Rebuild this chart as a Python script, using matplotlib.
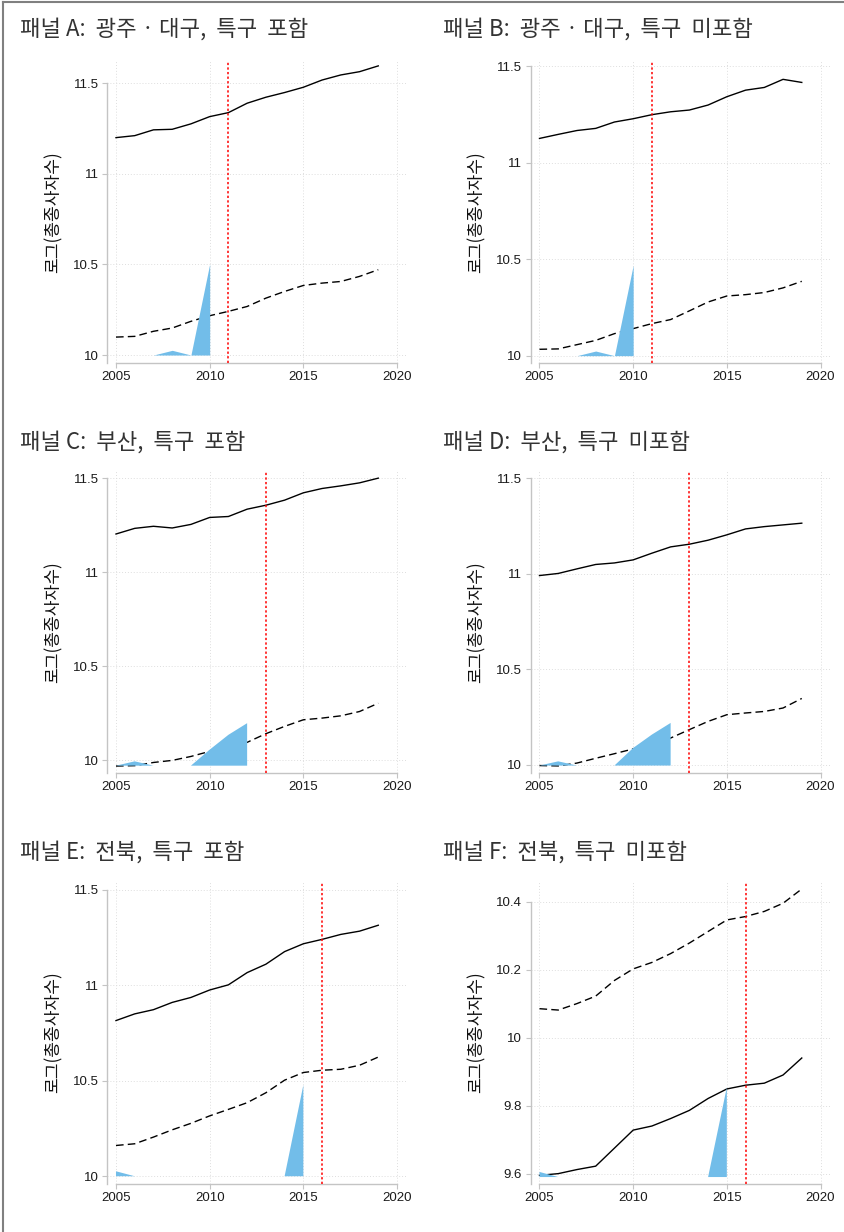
import numpy as np
import matplotlib.pyplot as plt
from matplotlib.lines import Line2D

plt.rcParams['font.family'] = ['Liberation Sans', 'Noto Sans CJK KR', 'DejaVu Sans']

years = list(range(2005, 2020))

titles = ["패널 A:  광주 · 대구,  특구  포함", "패널 B:  광주 · 대구,  특구  미포함",
          "패널 C:  부산,  특구  포함", "패널 D:  부산,  특구  미포함",
          "패널 E:  전북,  특구  포함", "패널 F:  전북,  특구  미포함"]
ylabel = "로그(총종사자수)"

# solid line (treated region) per panel
solid_a = [11.200, 11.211, 11.243, 11.246, 11.276, 11.316, 11.338, 11.390, 11.423, 11.449, 11.478, 11.518, 11.546, 11.564, 11.596]
solid_b = [11.125, 11.146, 11.166, 11.177, 11.210, 11.227, 11.248, 11.263, 11.272, 11.298, 11.341, 11.375, 11.389, 11.431, 11.415]
solid_c = [11.204, 11.234, 11.245, 11.236, 11.255, 11.292, 11.297, 11.336, 11.357, 11.384, 11.423, 11.446, 11.460, 11.476, 11.501]
solid_d = [10.991, 11.002, 11.026, 11.049, 11.057, 11.073, 11.108, 11.141, 11.155, 11.176, 11.204, 11.235, 11.247, 11.256, 11.265]
solid_e = [10.815, 10.850, 10.872, 10.910, 10.936, 10.975, 11.002, 11.066, 11.110, 11.176, 11.217, 11.240, 11.266, 11.283, 11.314]
solid_f = [9.595, 9.600, 9.612, 9.622, 9.675, 9.728, 9.740, 9.762, 9.786, 9.821, 9.849, 9.860, 9.866, 9.890, 9.940]

# dashed line (synthetic control) per panel
dashed_a = [10.099, 10.103, 10.131, 10.149, 10.186, 10.217, 10.241, 10.268, 10.314, 10.351, 10.384, 10.397, 10.406, 10.434, 10.471]
dashed_b = [10.033, 10.035, 10.057, 10.079, 10.114, 10.140, 10.166, 10.187, 10.232, 10.278, 10.309, 10.316, 10.327, 10.351, 10.385]
dashed_c = [9.970, 9.972, 9.989, 10.000, 10.021, 10.048, 10.074, 10.096, 10.142, 10.181, 10.216, 10.225, 10.237, 10.260, 10.304]
dashed_d = [9.997, 9.995, 10.010, 10.035, 10.059, 10.084, 10.111, 10.141, 10.185, 10.228, 10.263, 10.272, 10.280, 10.298, 10.348]
dashed_e = [10.161, 10.170, 10.205, 10.243, 10.277, 10.316, 10.350, 10.385, 10.437, 10.503, 10.543, 10.555, 10.560, 10.581, 10.624]
dashed_f = [10.085, 10.081, 10.100, 10.122, 10.168, 10.202, 10.221, 10.247, 10.278, 10.312, 10.346, 10.356, 10.371, 10.395, 10.437]

# shaded area tops (None = no area) and its base
nan = None
shade_a = [nan, nan, 10.0, 10.026, 10.0, 10.502, nan, nan, nan, nan, nan, nan, nan, nan, nan]
shade_b = [nan, nan, 10.0, 10.024, 10.0, 10.468, nan, nan, nan, nan, nan, nan, nan, nan, nan]
shade_c = [9.972, 9.995, 9.972, nan, 9.972, 10.057, 10.136, 10.198, nan, nan, nan, nan, nan, nan, nan]
shade_d = [9.997, 10.019, 9.997, nan, 9.997, 10.089, 10.159, 10.220, nan, nan, nan, nan, nan, nan, nan]
shade_e = [10.026, 10.0, nan, nan, nan, nan, nan, nan, nan, 10.0, 10.477, nan, nan, nan, nan]
shade_f = [9.605, 9.590, nan, nan, nan, nan, nan, nan, nan, 9.590, 9.854, nan, nan, nan, nan]
shade_base = [10.0, 10.0, 9.972, 9.997, 10.0, 9.590]

cut_years = [2011, 2011, 2013, 2013, 2016, 2016]

yticks_main = [10, 10.5, 11, 11.5]
yticks_f = [9.6, 9.8, 10, 10.2, 10.4]
xticks = [2005, 2010, 2015, 2020]

solids = [solid_a, solid_b, solid_c, solid_d, solid_e, solid_f]
dashes = [dashed_a, dashed_b, dashed_c, dashed_d, dashed_e, dashed_f]
shades = [shade_a, shade_b, shade_c, shade_d, shade_e, shade_f]
ytick_sets = [yticks_main] * 5 + [yticks_f]

# layout (pixels of the 844x1232 canvas)
W, H = 844, 1232
ylims = [(9.956, 11.623), (9.962, 11.526), (9.933, 11.539),
         (9.958, 11.538), (9.962, 11.543), (9.571, 10.459)]
col_left = [107, 530.5]
row_top = [61, 471, 881.5]
box_w, box_h = 299, 302
title_y = [29.5, 442, 852.5]
title_x = [20, 443]

fig = plt.figure(figsize=(W / 100, H / 100), dpi=100)
fig.add_artist(Line2D([3 / W, 3 / W], [0, 1 - 2 / H], color='#808080', lw=1.5))
fig.add_artist(Line2D([3 / W, 1], [1 - 2 / H, 1 - 2 / H], color='#808080', lw=1.5))

spine_c = '#c4c4c4'
for i in range(6):
    r, c = divmod(i, 2)
    ax = fig.add_axes([col_left[c] / W, 1 - (row_top[r] + box_h) / H, box_w / W, box_h / H])
    ax.set_xlim(2004.52, 2020.48)
    ax.set_ylim(*ylims[i])

    yrs = np.array(years)
    ax.plot(yrs, solids[i], color='black', lw=1.0, zorder=3)
    ax.plot(yrs, dashes[i], color='black', lw=1.0, linestyle=(0, (5.5, 3)), zorder=3)
    top = np.array([np.nan if v is None else v for v in shades[i]], dtype=float)
    ax.fill_between(yrs, shade_base[i], top, color='#72bde9', lw=0, zorder=4)
    ax.axvline(cut_years[i], color='red', lw=1.1, linestyle=(0, (1.5, 1.5)), zorder=5)

    ax.set_xticks(xticks)
    ax.set_yticks(ytick_sets[i])
    ax.set_yticklabels(['%g' % v for v in ytick_sets[i]])
    ax.grid(True, color='#dedede', lw=0.7, linestyle=(0, (1, 2)), zorder=0)
    for s in ['top', 'right']:
        ax.spines[s].set_visible(False)
    for s in ['left', 'bottom']:
        ax.spines[s].set_color(spine_c)
        ax.spines[s].set_linewidth(1.0)
    ax.spines['left'].set_bounds(ylims[i][0], ytick_sets[i][-1])
    ax.spines['bottom'].set_bounds(2005, 2020)
    ax.tick_params(axis='both', colors=spine_c, labelcolor='#1a1a1a', labelsize=9.5,
                   length=3.5, width=0.8, direction='out', pad=2.5)
    ax.set_ylabel(ylabel, fontsize=12.3, color='#111111', family=['Noto Sans CJK KR', 'DejaVu Sans'])
    ax.yaxis.set_label_coords(-0.15, 0.5)

    fig.text(title_x[c] / W, 1 - title_y[r] / H, titles[i], fontsize=16, color='#333333',
             ha='left', va='center', weight='light', family=['Noto Sans CJK KR', 'DejaVu Sans'])

fig.savefig('out.png', dpi=100)
